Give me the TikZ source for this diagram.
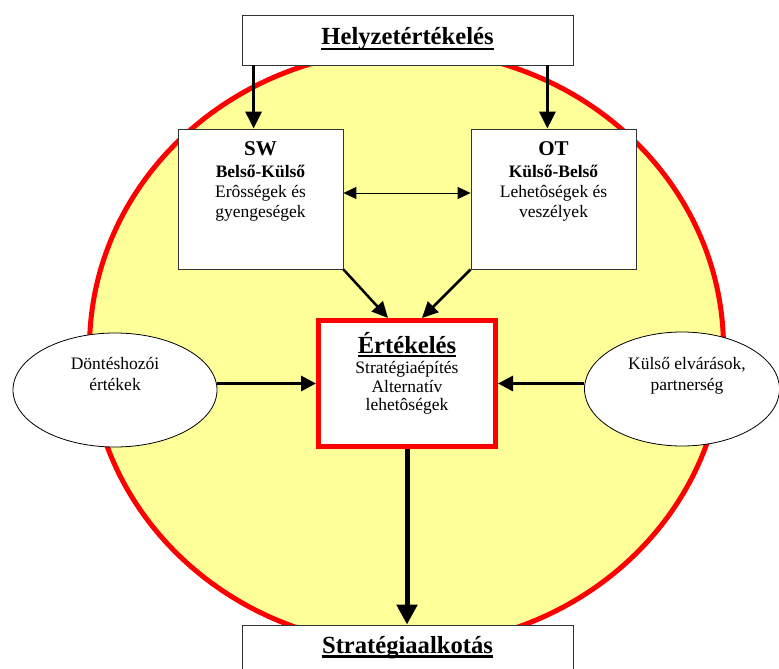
\documentclass[tikz,border=0pt]{standalone}
\usepackage{fontspec}
\setmainfont{Liberation Serif}
\usetikzlibrary{arrows.meta,shapes.geometric}
\definecolor{halvanysarga}{HTML}{FFFF99}
\definecolor{keretszurke}{HTML}{333333}
\tikzset{
	doboz/.style={draw=keretszurke, line width=0.8pt, fill=white, inner sep=0pt},
	folt/.style={ellipse, draw=black, line width=0.8pt, fill=white, inner sep=0pt},
	cimsor/.style={inner sep=0pt, anchor=base, font=\bfseries\fontsize{24.6}{28}\selectfont},
	fejsor/.style={inner sep=0pt, anchor=base, font=\bfseries\fontsize{21}{24}\selectfont},
	vastagsor/.style={inner sep=0pt, anchor=base, font=\bfseries\fontsize{17.5}{20}\selectfont},
	sor/.style={inner sep=0pt, anchor=base, font=\fontsize{17.5}{20}\selectfont},
	aláhúz/.style={line width=2.2pt},
}
\begin{document}
\begin{tikzpicture}[x=1pt,y=-1pt]
	\useasboundingbox (0,0) rectangle (779,669);
	% the big yellow disc
	\filldraw[fill=halvanysarga, draw=red, line width=5pt] (406.5,348) ellipse [x radius=317, y radius=298];
	% boxes
	\node[doboz, minimum width=331pt, minimum height=50pt] (helyzet) at (407.5,40) {};
	\node[doboz, minimum width=165pt, minimum height=140pt] (sw) at (260.5,199) {};
	\node[doboz, minimum width=165pt, minimum height=140pt] (ot) at (553.5,199) {};
	\node[draw=red, line width=5pt, fill=white, inner sep=0pt, minimum width=177pt, minimum height=126pt] (ert) at (407,383.5) {};
	\node[doboz, minimum width=331pt, minimum height=70pt] (strat) at (407.5,660) {};
	\node[folt, minimum width=204pt, minimum height=114pt] (dontes) at (115,390) {};
	\node[folt, minimum width=195pt, minimum height=114pt] (kulso) at (682,389) {};
	% texts
	\node[cimsor] (thelyzet) at (407.5,45) {Helyzetértékelés};
	\draw[aláhúz] ([yshift=-3.8pt]thelyzet.base west) -- ([yshift=-3.8pt]thelyzet.base east);
	\node[fejsor] (tsw) at (260.5,155) {SW};
	\node[vastagsor] (tsw1) at (260.5,177) {Belső-Külső};
	\node[sor] (tsw2) at (260.5,197) {Erôsségek és};
	\node[sor] (tsw3) at (260.5,217) {gyengeségek};
	\node[fejsor] (tot) at (553.5,155) {OT};
	\node[vastagsor] (tot1) at (553.5,177) {Külső-Belső};
	\node[sor] (tot2) at (553.5,197) {Lehetôségek és};
	\node[sor] (tot3) at (553.5,217) {veszélyek};
	\node[cimsor] (tert) at (407,353) {Értékelés};
	\draw[aláhúz] ([yshift=-3pt]tert.base west) -- ([yshift=-3pt]tert.base east);
	\node[sor] (tert1) at (407,373) {Stratégiaépítés};
	\node[sor] (tert2) at (407,392) {Alternatív};
	\node[sor] (tert3) at (407,410) {lehetôségek};
	\node[sor] (tdontes1) at (115,369) {Döntéshozói};
	\node[sor] (tdontes2) at (115,390) {értékek};
	\node[sor] (tkulso1) at (687,369) {Külső elvárások,};
	\node[sor] (tkulso2) at (687,390) {partnerség};
	\node[cimsor] (tstrat) at (407.5,653) {Stratégiaalkotás};
	\draw[aláhúz] ([yshift=-3.5pt]tstrat.base west) -- ([yshift=-3.5pt]tstrat.base east);
	% arrows
	\draw[line width=3pt, -{Triangle[length=17pt, width=16pt]}] ([xshift=12pt]helyzet.south west) -- ([xshift=12pt]helyzet.south west |- sw.north);
	\draw[line width=3pt, -{Triangle[length=17pt, width=16pt]}] ([xshift=-26pt]helyzet.south east) -- ([xshift=-26pt]helyzet.south east |- ot.north);
	\draw[line width=1pt, {Triangle[length=13pt, width=12pt]}-{Triangle[length=13pt, width=12pt]}] ([yshift=6pt]sw.east) -- ([yshift=6pt]ot.west);
	\draw[line width=2.5pt, -{Triangle[length=16pt, width=15pt]}] (sw.south east) -- ([xshift=-19pt]ert.north);
	\draw[line width=2.5pt, -{Triangle[length=16pt, width=15pt]}] (ot.south west) -- ([xshift=15pt]ert.north);
	\draw[line width=3pt, -{Triangle[length=15pt, width=15pt]}] (dontes.east |- ert.west) -- (ert.west);
	\draw[line width=3pt, -{Triangle[length=15pt, width=15pt]}] (kulso.west |- ert.east) -- (ert.east);
	\draw[line width=5pt, -{Triangle[length=20pt, width=20pt]}] (ert.south) -- (ert.south |- strat.north);
\end{tikzpicture}
\end{document}
